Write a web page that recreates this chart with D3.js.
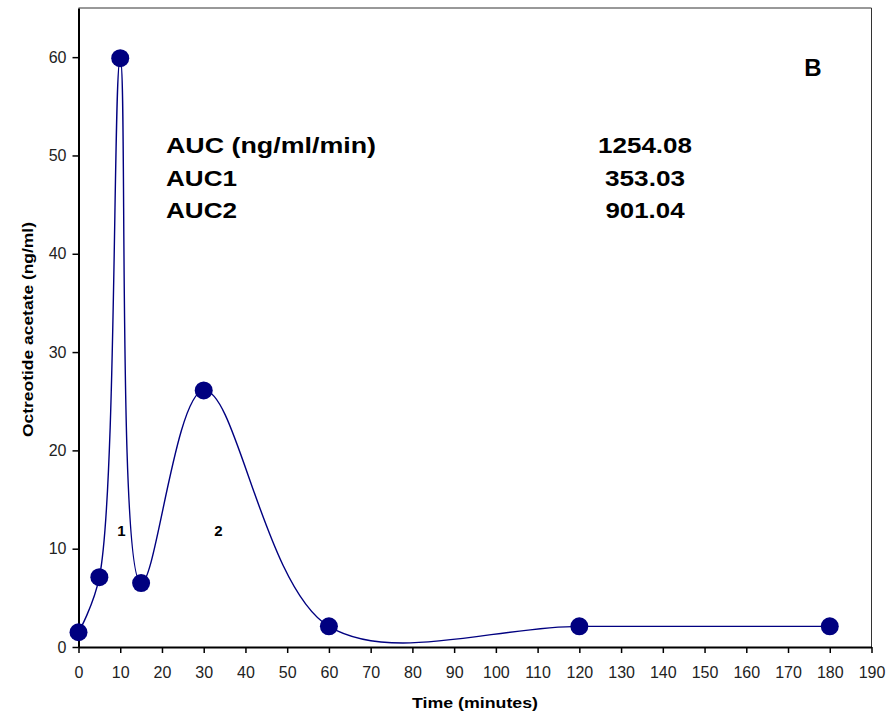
<!DOCTYPE html>
<html>
<head>
<meta charset="utf-8">
<script src="https://cdn.jsdelivr.net/npm/d3@7"></script>
<style>
  body { margin: 0; background: #fff; }
  text { font-family: Arial, "Liberation Sans", sans-serif; }
</style>
</head>
<body>
<div id="chart"></div>
<script>
// sampling times and concentrations
const times = [0, 5, 10, 15, 30, 60, 120, 180];
const conc = [1.5, 7.1, 59.9, 6.5, 26.1, 2.1, 2.1, 2.1];
const xTicks = d3.range(0, 191, 10);
const yTicks = [0, 10, 20, 30, 40, 50, 60];
// AUC table
const aucLabels = ["AUC (ng/ml/min)", "AUC1", "AUC2"];
const aucValues = ["1254.08", "353.03", "901.04"];
// region labels under the curve
const regionLabels = [{ t: "1", x: 10.3, y: 11.8 }, { t: "2", x: 33.5, y: 11.8 }];

const width = 895, height = 713;
const margin = { top: 8, right: 23.5, bottom: 66, left: 78.5 };
const navy = "#000080";

const svg = d3.select("#chart")
  .append("svg")
  .attr("width", width)
  .attr("height", height);

const x = d3.scaleLinear().domain([0, 190]).range([margin.left, width - margin.right]);
const y = d3.scaleLinear().domain([0, 65]).range([height - margin.bottom, margin.top]);

// stretch a text to a given width (the reference glyphs are wider than Arial)
function fit(sel, w) {
  sel.attr("textLength", w).attr("lengthAdjust", "spacingAndGlyphs");
}

// frame (top and right)
svg.append("path")
  .attr("d", `M${x(0)},${y(65)}H${x(190)}V${y(0)}`)
  .attr("fill", "none")
  .attr("stroke", "#333")
  .attr("stroke-width", 1);

// axes
const xAxis = svg.append("g")
  .attr("transform", `translate(0,${y(0)})`)
  .call(d3.axisBottom(x).tickValues(xTicks).tickSize(6).tickSizeOuter(0).tickPadding(6));
const yAxis = svg.append("g")
  .attr("transform", `translate(${x(0)},0)`)
  .call(d3.axisLeft(y).tickValues(yTicks).tickSize(6).tickSizeOuter(0).tickPadding(6));

[xAxis, yAxis].forEach(g => {
  g.attr("font-size", 16).attr("font-family", "Arial, 'Liberation Sans', sans-serif");
  g.select(".domain").attr("stroke", "#000").attr("stroke-width", 2);
  g.selectAll(".tick line").attr("stroke", "#000").attr("stroke-width", 1.5);
  g.selectAll(".tick text").attr("fill", "#222");
});
xAxis.selectAll(".tick text").attr("dy", "1.2em");

// axis titles
svg.append("text")
  .attr("x", 412)
  .attr("y", 708)
  .attr("font-size", 15)
  .attr("font-weight", "bold")
  .text("Time (minutes)")
  .call(fit, 126);

svg.append("text")
  .attr("transform", `translate(33,437) rotate(-90)`)
  .attr("font-size", 14)
  .attr("font-weight", "bold")
  .text("Octreotide acetate (ng/ml)")
  .call(fit, 215);

// smooth curve
const line = d3.line()
  .x((d, i) => x(times[i]))
  .y(d => y(d))
  .curve(d3.curveCatmullRom.alpha(0.5));

svg.append("path")
  .datum(conc)
  .attr("d", line)
  .attr("fill", "none")
  .attr("stroke", navy)
  .attr("stroke-width", 1.4);

// markers
svg.selectAll("circle.pt")
  .data(conc)
  .enter()
  .append("circle")
  .attr("class", "pt")
  .attr("cx", (d, i) => x(times[i]))
  .attr("cy", d => y(d))
  .attr("r", 9)
  .attr("fill", navy);

// AUC table
const labW = [210, 71, 71];
const valW = [94, 80, 79];
const table = svg.append("g");
table.selectAll("text.lab")
  .data(aucLabels)
  .enter()
  .append("text")
  .attr("class", "lab")
  .attr("x", 166)
  .attr("y", (d, i) => 153 + i * 32.5)
  .attr("font-size", 22)
  .attr("font-weight", "bold")
  .text(d => d)
  .each(function(d, i) { d3.select(this).call(fit, labW[i]); });
table.selectAll("text.val")
  .data(aucValues)
  .enter()
  .append("text")
  .attr("class", "val")
  .attr("x", (d, i) => 645 - valW[i] / 2)
  .attr("y", (d, i) => 153 + i * 32.5)
  .attr("font-size", 22)
  .attr("font-weight", "bold")
  .text(d => d)
  .each(function(d, i) { d3.select(this).call(fit, valW[i]); });

// panel letter
svg.append("text")
  .attr("x", 813)
  .attr("y", 76)
  .attr("text-anchor", "middle")
  .attr("font-size", 24)
  .attr("font-weight", "bold")
  .text("B");

// region numbers
svg.selectAll("text.region")
  .data(regionLabels)
  .enter()
  .append("text")
  .attr("class", "region")
  .attr("x", d => x(d.x))
  .attr("y", d => y(d.y))
  .attr("text-anchor", "middle")
  .attr("dy", "0.35em")
  .attr("font-size", 15)
  .attr("font-weight", "bold")
  .text(d => d.t);
</script>
</body>
</html>
